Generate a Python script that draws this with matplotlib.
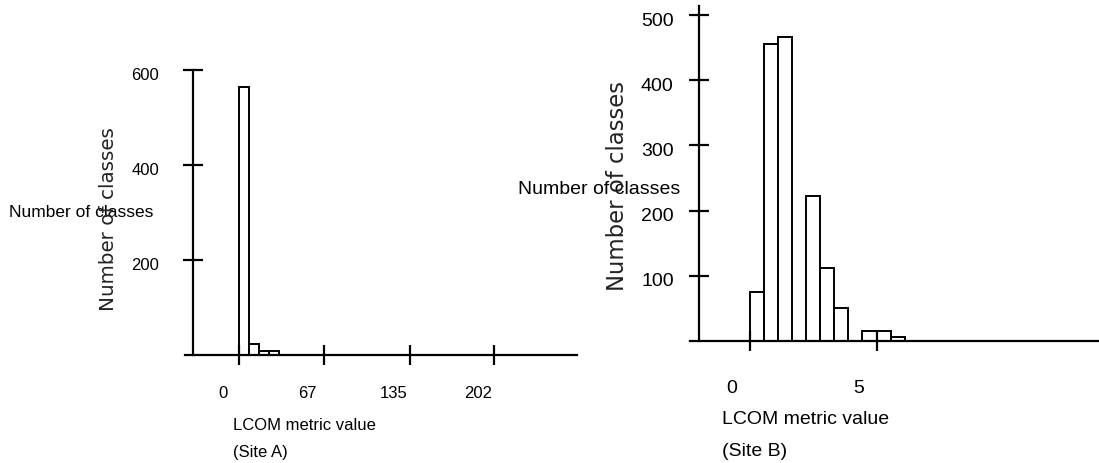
import numpy as np
import matplotlib
matplotlib.use("Agg")
import matplotlib.pyplot as plt
from matplotlib.transforms import ScaledTranslation

plt.rcParams['font.family'] = ['Liberation Sans', 'DejaVu Sans']

# Site A histogram (bin width ~7.93, starting at 0)
a_bin_width = 269.5 / 34
a_counts = [564, 23, 8, 8, 0, 0, 0, 0, 0, 0]
a_xticks = [0, 67, 135, 202]
a_yticks = [200, 400, 600]

# Site B histogram (bin width 5/9, starting at 0)
b_bin_width = 5 / 9
b_counts = [75, 456, 467, 0, 223, 112, 51, 0, 15, 15, 6, 0, 0, 0]
b_xticks = [0, 5]
b_yticks = [100, 200, 300, 400, 500]

W, H = 1099, 464
fig = plt.figure(figsize=(W / 100, H / 100), dpi=100)


def px_axes(x0, x1, ytop, ybot):
    return fig.add_axes([x0 / W, 1 - ybot / H, (x1 - x0) / W, (ybot - ytop) / H])


def style(ax, yaxis_x, ytop_val, fs, xshift, ypad, xpad):
    for s in ['top', 'right']:
        ax.spines[s].set_visible(False)
    ax.spines['left'].set_position(('data', yaxis_x))
    ax.spines['left'].set_bounds(0, ytop_val)
    ax.spines['left'].set_linewidth(1.6)
    ax.spines['bottom'].set_linewidth(1.6)
    ax.tick_params(axis='both', direction='inout', length=15, width=1.6, labelsize=fs)
    ax.tick_params(axis='y', pad=ypad)
    ax.tick_params(axis='x', pad=xpad)
    off = ScaledTranslation(xshift / 100, 0, fig.dpi_scale_trans)
    for lab in ax.get_xticklabels():
        lab.set_transform(lab.get_transform() + off)
    off_y = ScaledTranslation(0, -3 / 100, fig.dpi_scale_trans)
    for lab in ax.get_yticklabels():
        lab.set_transform(lab.get_transform() + off_y)


# ---- Site A ----
ax1 = px_axes(185, 577, 65, 356)
a_edges = np.arange(len(a_counts)) * a_bin_width
ax1.bar(a_edges, a_counts, width=a_bin_width, align='edge',
        color='white', edgecolor='black', linewidth=1.4)
ax1.set_xlim(-42.8, 267.6)
ax1.set_ylim(0, 612)
ax1.set_xticks(a_xticks)
ax1.set_yticks(a_yticks)
style(ax1, -36.4, 600, 12, -16, 17, 14)

fig.text(9 / W, 1 - 213 / H, 'Number of classes', fontsize=12.5, va='center', ha='left')
fig.text(108 / W, 1 - 219 / H, 'Number of classes', fontsize=14.3, rotation=90,
         va='center', ha='center', color='#222222', family='DejaVu Sans')
fig.text(233 / W, 1 - 426 / H, 'LCOM metric value', fontsize=12, va='center', ha='left')
fig.text(233 / W, 1 - 453 / H, '(Site A)', fontsize=12, va='center', ha='left')

# ---- Site B ----
ax2 = px_axes(690, 1098, 7, 342)
b_edges = np.arange(len(b_counts)) * b_bin_width
ax2.bar(b_edges, b_counts, width=b_bin_width, align='edge',
        color='white', edgecolor='black', linewidth=1.4)
ax2.set_xlim(-2.37, 13.75)
ax2.set_ylim(0, 514)
ax2.set_xticks(b_xticks)
ax2.set_yticks(b_yticks)
style(ax2, -2.0, 514, 14, -18, 11, 20)

fig.text(518 / W, 1 - 190 / H, 'Number of classes', fontsize=14, va='center', ha='left')
fig.text(617 / W, 1 - 186 / H, 'Number of classes', fontsize=16.4, rotation=90,
         va='center', ha='center', color='#222222', family='DejaVu Sans')
fig.text(722 / W, 1 - 420 / H, 'LCOM metric value', fontsize=14, va='center', ha='left')
fig.text(722 / W, 1 - 452 / H, '(Site B)', fontsize=14, va='center', ha='left')

fig.savefig('out.png', dpi=100)
